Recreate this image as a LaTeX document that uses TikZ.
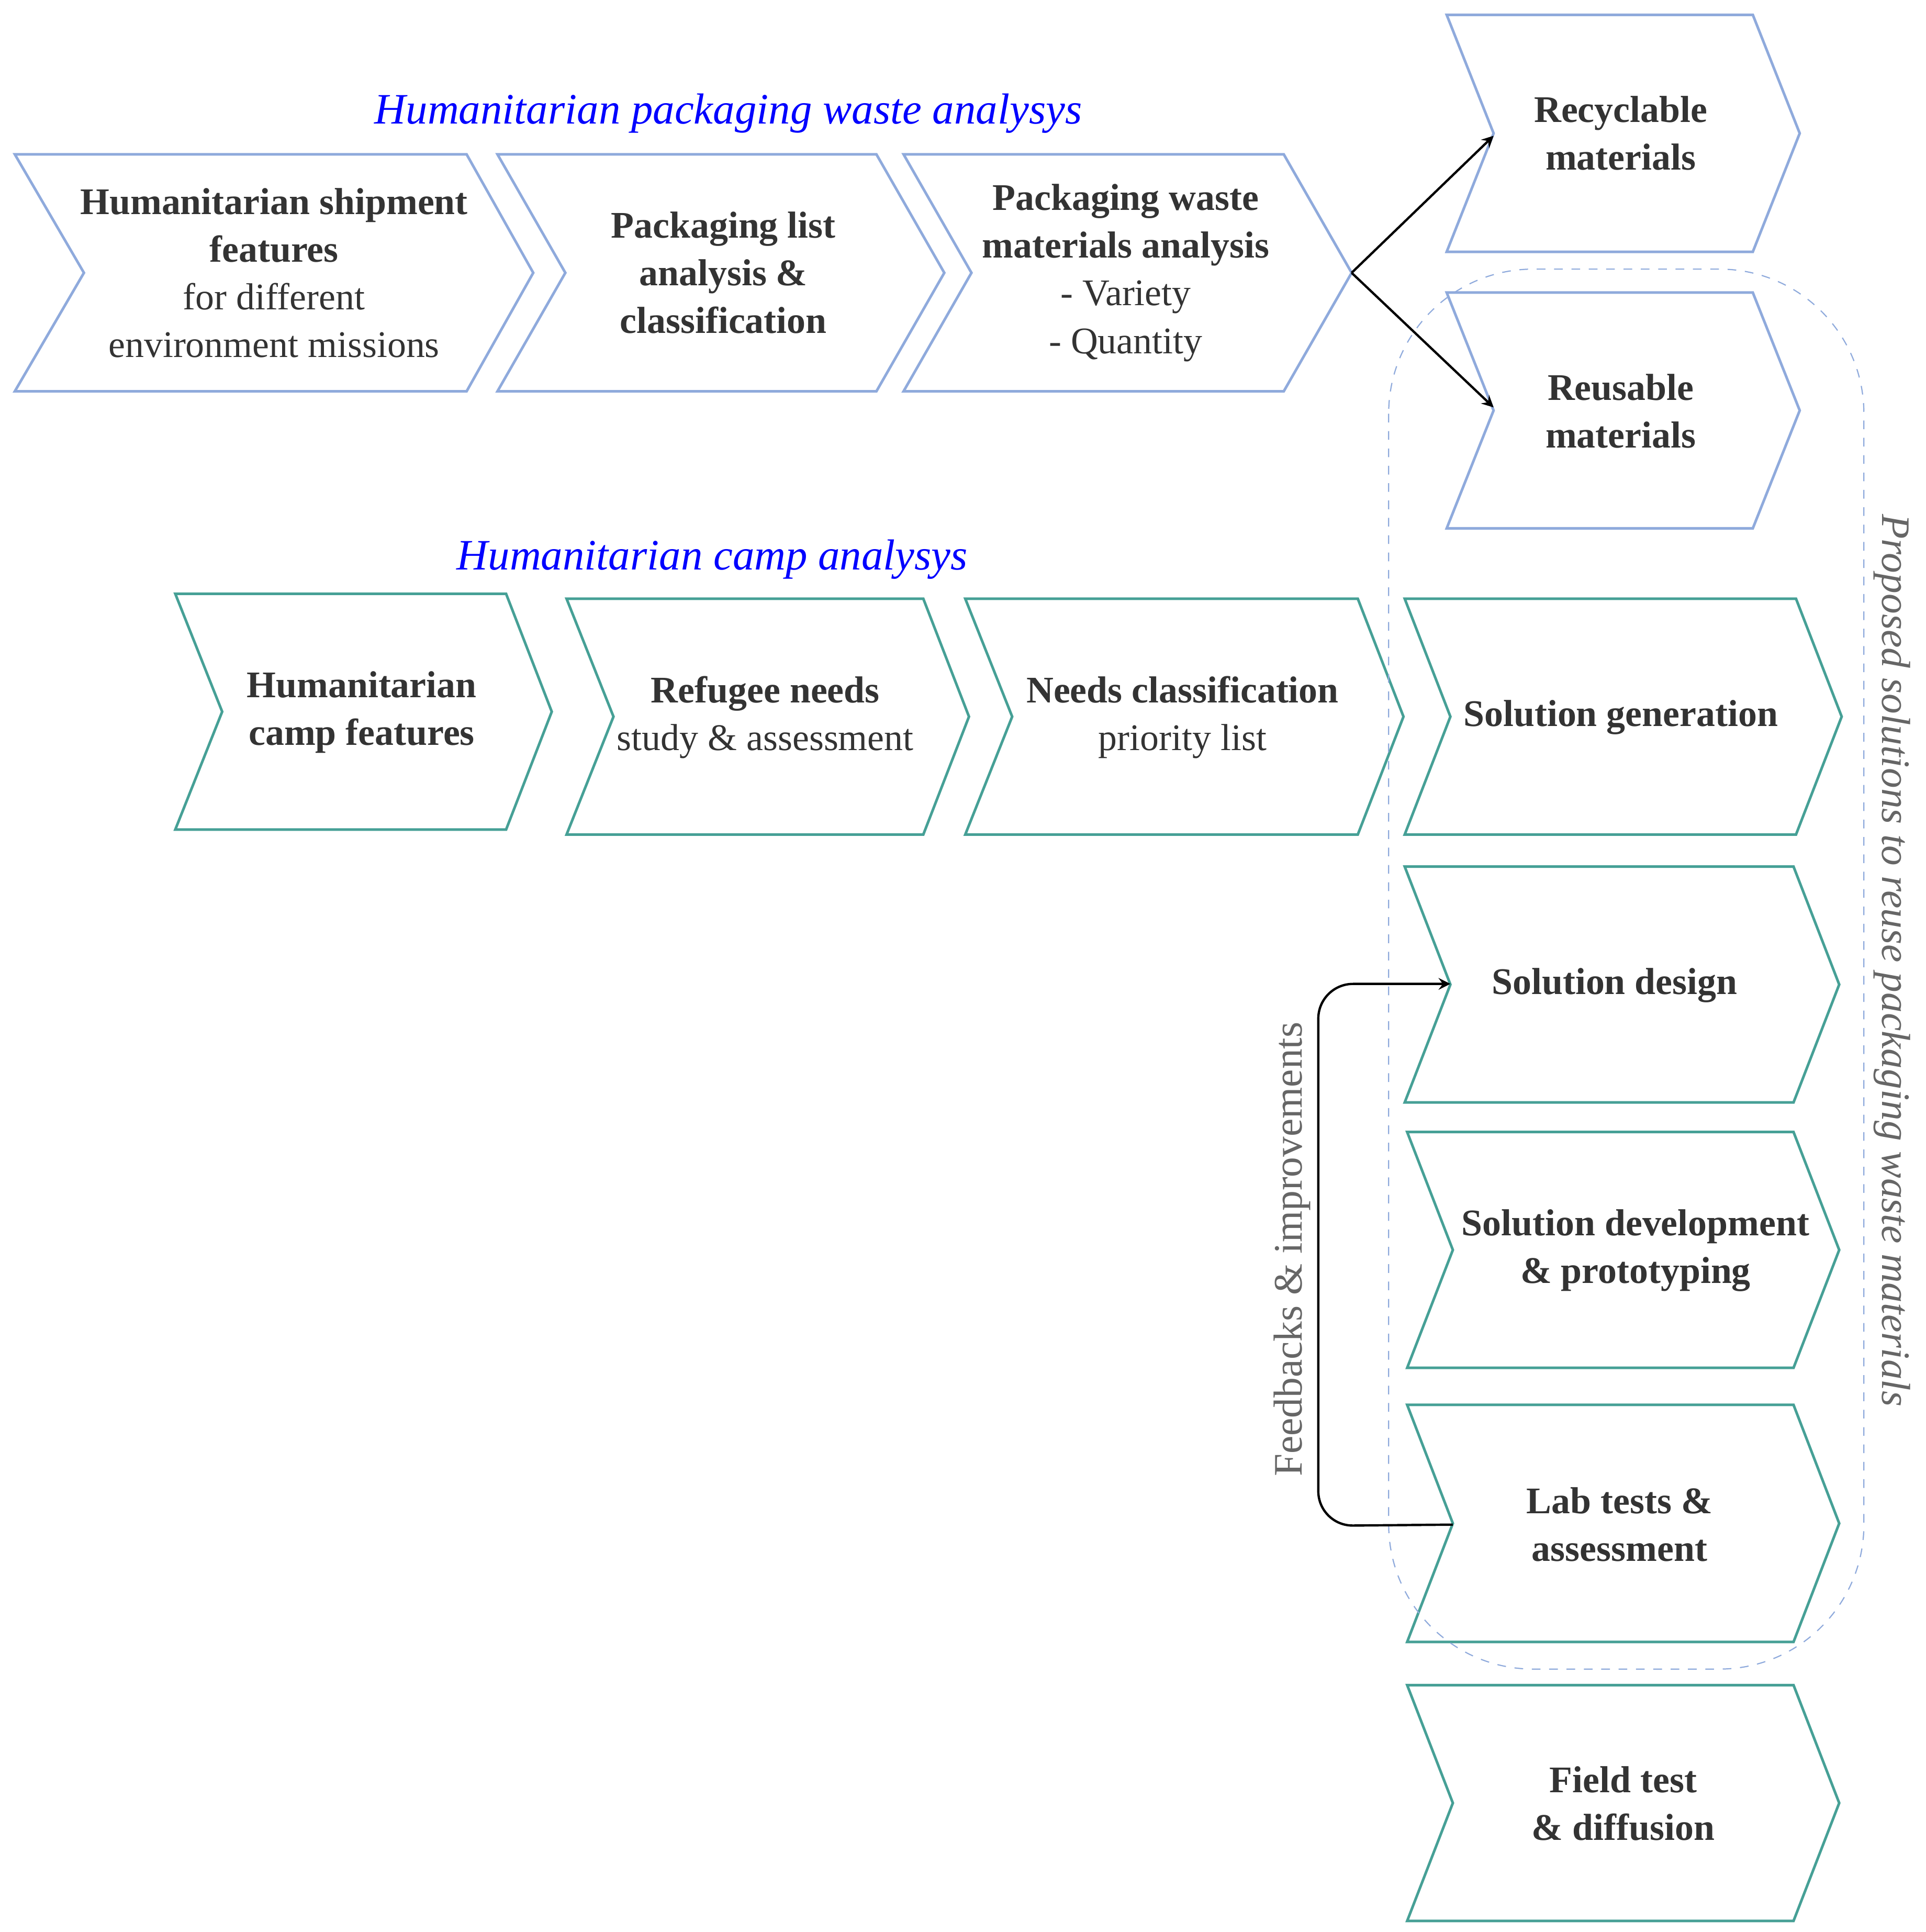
\documentclass[tikz,border=0pt]{standalone}
\usepackage{fontspec}
\setmainfont{Liberation Serif}
\definecolor{cblue}{RGB}{143,170,220}
\definecolor{cteal}{RGB}{70,160,150}
\begin{document}
\begin{tikzpicture}[x=0.015cm,y=-0.015cm,
  bluec/.style={draw=cblue,line width=0.9pt},
  tealc/.style={draw=cteal,line width=0.9pt},
  txt/.style={align=center,text=black!80,font=\fontsize{13}{16.5}\selectfont},
  ttl/.style={text=blue,font=\fontsize{15}{18}\selectfont\itshape}]
\useasboundingbox (0,0) rectangle (1560,1565);
\fill[white] (0,0) rectangle (1560,1565);
\newcommand{\chev}[7]{\draw[#1] (#2,#6) -- (#4,#6) -- (#5,{(#6+#7)/2}) -- (#4,#7) -- (#2,#7) -- (#3,{(#6+#7)/2}) -- cycle;}
\chev{bluec}{12}{68}{378}{432}{125}{317}
\chev{bluec}{403}{458}{710}{765}{125}{317}
\chev{bluec}{732}{787}{1040}{1095}{125}{317}
\chev{bluec}{1172}{1210}{1420}{1458}{12}{204}
\chev{bluec}{1172}{1210}{1420}{1458}{237}{428}
\chev{tealc}{142}{180}{410}{447}{481}{672}
\chev{tealc}{459}{497}{748}{785}{485}{676}
\chev{tealc}{782}{820}{1100}{1137}{485}{676}
\chev{tealc}{1138}{1175}{1455}{1492}{485}{676}
\chev{tealc}{1138}{1175}{1453}{1490}{702}{893}
\chev{tealc}{1140}{1177}{1453}{1490}{917}{1108}
\chev{tealc}{1140}{1177}{1453}{1490}{1138}{1330}
\chev{tealc}{1140}{1177}{1453}{1490}{1365}{1556}
\draw[dashed,draw=cblue,rounded corners=50] (1125,218) rectangle (1510,1352);
\node[ttl] (t1) at (590,92) {Humanitarian packaging waste analysys};
\node[ttl] (t2) at (577,453) {Humanitarian camp analysys};
\node[txt] (a) at (222,221) {\textbf{Humanitarian shipment}\\\textbf{features}\\for different\\environment missions};
\node[txt] (b) at (586,221) {\textbf{Packaging list}\\\textbf{analysis \&}\\\textbf{classification}};
\node[txt] (c) at (912,221) {\textbf{Packaging waste}\\\textbf{materials analysis}\\- Variety\\- Quantity};
\node[txt] (r1) at (1313,108) {\textbf{Recyclable}\\\textbf{materials}};
\node[txt] (r2) at (1313,333) {\textbf{Reusable}\\\textbf{materials}};
\node[txt] (d) at (293,577) {\textbf{Humanitarian}\\\textbf{camp features}};
\node[txt] (e) at (620,581) {\textbf{Refugee needs}\\study \& assessment};
\node[txt] (f) at (958,581) {\textbf{Needs classification}\\priority list};
\node[txt] (g) at (1313,581) {\textbf{Solution generation}};
\node[txt] (h) at (1308,798) {\textbf{Solution design}};
\node[txt] (i) at (1325,1013) {\textbf{Solution development}\\\textbf{\& prototyping}};
\node[txt] (j) at (1312,1235) {\textbf{Lab tests \&}\\\textbf{assessment}};
\node[txt] (k) at (1315,1461) {\textbf{Field test}\\\textbf{\& diffusion}};
\node[rotate=-90,text=black!60,font=\fontsize{14}{18}\selectfont\itshape] (p) at (1533,778) {Proposed solutions to reuse packaging waste materials};
\node[rotate=90,text=black!60,font=\fontsize{14}{18}\selectfont] (fb) at (1047,1012) {Feedbacks \& improvements};
\coordinate (ct) at (1095,221);
\coordinate (e1) at (1210,110);
\coordinate (e2) at (1210,330);
\draw[-stealth,line width=0.8pt] (ct) -- (e1);
\draw[-stealth,line width=0.8pt] (ct) -- (e2);
\coordinate (js) at (1177,1235);
\coordinate (hs) at (1175,797);
\draw[-stealth,line width=0.8pt,rounded corners=12] (js) -- (1068,1236) -- (1068,797) -- (hs);
\end{tikzpicture}
\end{document}
